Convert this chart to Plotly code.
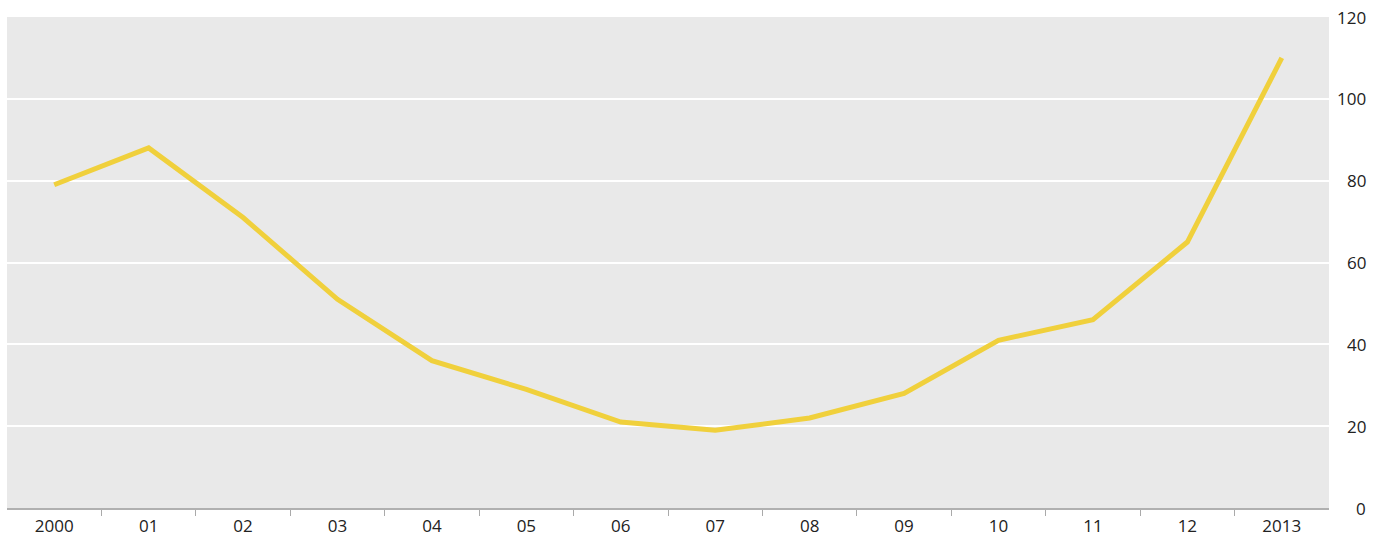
import plotly.graph_objects as go

categories = ["2000", "01", "02", "03", "04", "05", "06", "07", "08", "09", "10", "11", "12", "2013"]
values = [79, 88, 71, 51, 36, 29, 21, 19, 22, 28, 41, 46, 65, 110]
y_ticks = [0, 20, 40, 60, 80, 100, 120]

x_idx = list(range(len(categories)))

fig = go.Figure()
fig.add_trace(go.Scatter(
    x=x_idx, y=values, mode="lines",
    line=dict(color="#f0d03c", width=5),
    hoverinfo="skip", showlegend=False,
))

fig.update_layout(
    width=1386, height=539,
    margin=dict(l=7, r=57, t=17, b=31),
    paper_bgcolor="white",
    plot_bgcolor="#e9e9e9",
    font=dict(family="Open Sans, Noto Sans, sans-serif", size=17, color="#222222"),
    xaxis=dict(
        range=[-0.5, len(categories) - 0.5],
        tickmode="array", tickvals=x_idx, ticktext=categories,
        ticks="", showgrid=False, zeroline=False,
        showline=True, linecolor="#b0b0b0", linewidth=2,
        tickfont=dict(size=17, color="#222222"),
        ticklabelstandoff=2, automargin=False,
        minor=dict(tickmode="array", tickvals=[i + 0.5 for i in x_idx[:-1]],
                   ticks="outside", ticklen=6, tickcolor="#aaaaaa", tickwidth=1,
                   showgrid=False),
        fixedrange=True,
    ),
    yaxis=dict(
        range=[0, 120], tickmode="array", tickvals=y_ticks,
        showticklabels=False, ticks="", automargin=False,
        showgrid=True, gridcolor="white", gridwidth=2,
        zeroline=False, showline=False, fixedrange=True,
    ),
)

for v in y_ticks:
    fig.add_annotation(
        x=1, xref="paper", y=v, yref="y", text=str(v),
        showarrow=False, xanchor="right", yanchor="middle",
        xshift=39, font=dict(size=17, color="#222222"),
    )

fig.write_html("out.html", config={"displayModeBar": False},
               post_script="document.body.style.margin='0';")
